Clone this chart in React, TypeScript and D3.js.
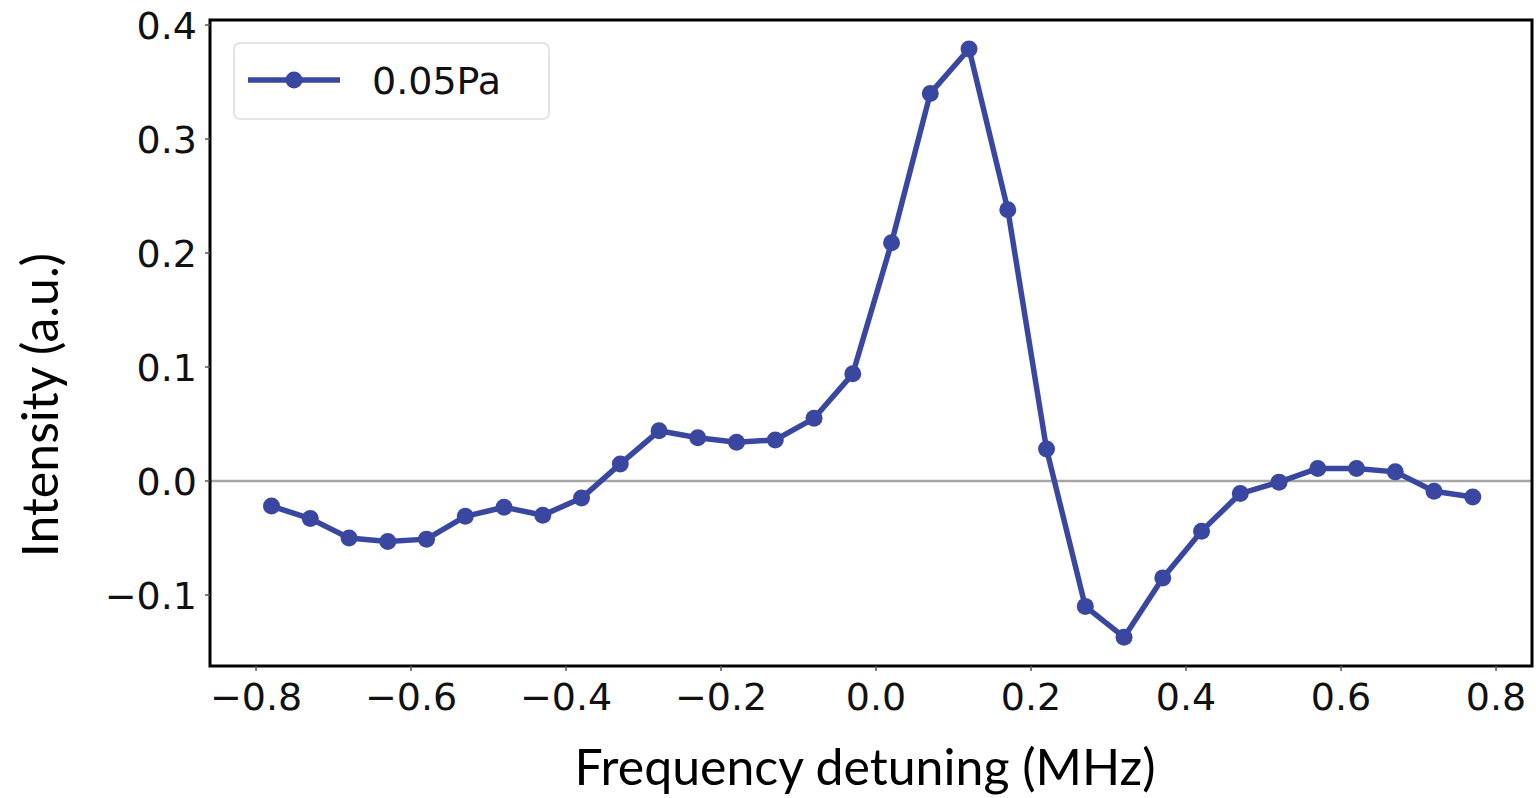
import React from "react";
import * as d3 from "d3";

const freq: number[] = [
  -0.78, -0.73, -0.68, -0.63, -0.58, -0.53, -0.48, -0.43,
  -0.38, -0.33, -0.28, -0.23, -0.18, -0.13, -0.08, -0.03,
  0.02, 0.07, 0.12, 0.17, 0.22, 0.27, 0.32, 0.37,
  0.42, 0.47, 0.52, 0.57, 0.62, 0.67, 0.72, 0.77,
];
const intensity: number[] = [
  -0.022, -0.033, -0.05, -0.053, -0.051, -0.031, -0.023, -0.03,
  -0.015, 0.015, 0.044, 0.038, 0.034, 0.036, 0.055, 0.094,
  0.209, 0.34, 0.379, 0.238, 0.028, -0.11, -0.137, -0.085,
  -0.044, -0.011, -0.001, 0.011, 0.011, 0.008, -0.009, -0.014,
];
const xTicks: number[] = [-0.8, -0.6, -0.4, -0.2, 0.0, 0.2, 0.4, 0.6, 0.8];
const yTicks: number[] = [-0.1, 0.0, 0.1, 0.2, 0.3, 0.4];
const seriesName = "0.05Pa";
const xLabel = "Frequency detuning (MHz)";
const yLabel = "Intensity (a.u.)";

const W = 1536;
const H = 798;
const L = 210, R = 1532, T = 20, B = 666;
const COLOR = "#3a47a1";
const tickFont = "'DejaVu Sans', sans-serif";
const labelFont = "Lato, 'Open Sans', sans-serif";

const fmt = (v: number) => (v < 0 ? "\u2212" : "") + Math.abs(v).toFixed(1);

export default function App() {
  const x = d3.scaleLinear().domain([-0.8594, 0.8464]).range([L, R]);
  const y = d3.scaleLinear().domain([-0.1623, 0.4044]).range([B, T]);
  const pts = freq.map((f, i) => [f, intensity[i]] as [number, number]);
  const line = d3
    .line<[number, number]>()
    .x((d) => x(d[0]))
    .y((d) => y(d[1]));

  return (
    <svg
      width={W}
      height={H}
      style={{ position: "absolute", left: 0, top: 0, background: "#fff" }}
    >
      {/* zero line */}
      <line x1={L} x2={R} y1={y(0)} y2={y(0)} stroke="#a6a6a6" strokeWidth={2.5} />
      {/* series */}
      <path d={line(pts) || ""} fill="none" stroke={COLOR} strokeWidth={5.5} strokeLinejoin="round" />
      {pts.map((d, i) => (
        <circle key={i} cx={x(d[0])} cy={y(d[1])} r={8.5} fill={COLOR} />
      ))}
      {/* frame */}
      <rect x={L} y={T} width={R - L} height={B - T} fill="none" stroke="#000" strokeWidth={3} />
      {/* x ticks */}
      {xTicks.map((t) => (
        <g key={"x" + t}>
          <line x1={x(t)} x2={x(t)} y1={B} y2={B + 5} stroke="#555" strokeWidth={1.5} />
          <text
            x={x(t)}
            y={B + 44}
            textAnchor="middle"
            fontFamily={tickFont}
            fontSize={38}
            fill="#111"
          >
            {fmt(t)}
          </text>
        </g>
      ))}
      {/* y ticks */}
      {yTicks.map((t) => (
        <g key={"y" + t}>
          <line x1={L - 5} x2={L} y1={y(t)} y2={y(t)} stroke="#555" strokeWidth={1.5} />
          <text
            x={L - 13}
            y={y(t)}
            dy="0.36em"
            textAnchor="end"
            fontFamily={tickFont}
            fontSize={38}
            fill="#111"
          >
            {fmt(t)}
          </text>
        </g>
      ))}
      {/* legend */}
      <rect x={234} y={43} width={315} height={76} rx={6} fill="#fff" stroke="#dcdcdc" strokeWidth={1.5} />
      <line x1={248} x2={340} y1={80} y2={80} stroke={COLOR} strokeWidth={5.5} />
      <circle cx={294} cy={80} r={8.5} fill={COLOR} />
      <text x={372} y={80} dy="0.36em" fontFamily={tickFont} fontSize={38} fill="#111">
        {seriesName}
      </text>
      {/* axis labels */}
      <text
        x={865}
        y={785}
        textAnchor="middle"
        fontFamily={labelFont}
        fontSize={50}
        fill="#000"
      >
        {xLabel}
      </text>
      <text
        transform={`translate(58, 405) rotate(-90)`}
        textAnchor="middle"
        fontFamily={labelFont}
        fontSize={50}
        fill="#000"
      >
        {yLabel}
      </text>
    </svg>
  );
}
